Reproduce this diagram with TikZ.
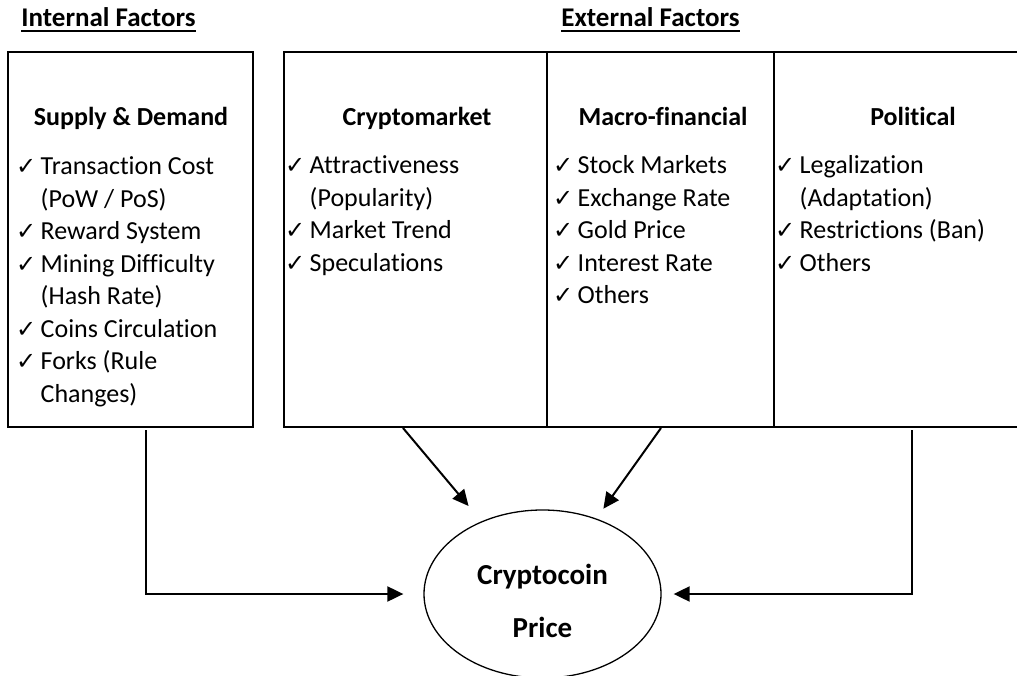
\documentclass[tikz,border=0pt]{standalone}
\usepackage{fontspec}
\setmainfont[Ligatures=NoCommon]{Carlito}
\newfontfamily\ckfont{DejaVu Sans}
\usetikzlibrary{shapes.geometric,arrows.meta}
\newcommand\ckmark{\makebox[24.5pt][l]{\fontsize{24}{24}\ckfont ✓}}
\newcommand\ckitem[1]{\hbox{\ckmark#1}}
\newcommand\contline[1]{\hbox{\hspace{24.5pt}#1}}
\tikzset{
  txt/.style={font=\fontsize{26}{32.5}\selectfont, inner sep=0pt, anchor=base west},
  ttl/.style={font=\bfseries\fontsize{26}{32.5}\selectfont, inner sep=0pt, anchor=base},
  frame/.style={draw, line width=2pt, anchor=north west, inner sep=0pt, minimum height=375pt},
  conn/.style={line width=2pt, -{Triangle[length=16pt,width=15pt]}},
  uline/.style={line width=2pt},
}
\begin{document}
\begin{tikzpicture}[x=1pt,y=-1pt]
\clip (0,0) rectangle (1017,676);
% headings
\node[ttl, font=\bfseries\fontsize{27}{32.5}\selectfont] (ih) at (108.5,27) {Internal Factors};
\node[ttl, font=\bfseries\fontsize{27}{32.5}\selectfont] (eh) at (650.5,27) {External Factors};
\draw[uline] ([yshift=-4pt]ih.base west) -- ([yshift=-4pt]ih.base east);
\draw[uline] ([yshift=-4pt]eh.base west) -- ([yshift=-4pt]eh.base east);
% boxes
\node[frame, minimum width=245pt] (ibox) at (7,51) {};
\node[frame, minimum width=263pt] (cbox) at (283,51) {};
\node[frame, minimum width=227pt] (mbox) at (546,51) {};
\node[frame, minimum width=280pt] (pbox) at (773,51) {};
% titles
\node[ttl] (sdt) at (131,126) {Supply \& Demand};
\node[ttl] (cmt) at (417,126) {Cryptomarket};
\node[ttl] (mft) at (663,126) {Macro-financial};
\node[ttl] (plt) at (913,126) {Political};
% lists
\node[txt] (sdl) at (16,175) {\vtop{%
  \ckitem{Transaction Cost}\contline{(PoW / PoS)}\ckitem{Reward System}%
  \ckitem{Mining Difficulty}\contline{(Hash Rate)}\ckitem{Coins Circulation}%
  \ckitem{Forks (Rule}\contline{Changes)}}};
\node[txt] (cml) at (285,174) {\vtop{%
  \ckitem{Attractiveness}\contline{(Popularity)}\ckitem{Market Trend}%
  \ckitem{Speculations}}};
\node[txt] (mfl) at (553,174) {\vtop{%
  \ckitem{Stock Markets}\ckitem{Exchange Rate}\ckitem{Gold Price}%
  \ckitem{Interest Rate}\ckitem{Others}}};
\node[txt] (pll) at (775,174) {\vtop{%
  \ckitem{Legalization}\contline{(Adaptation)}\ckitem{Restrictions (Ban)}%
  \ckitem{Others}}};
% price ellipse
\node[draw, ellipse, line width=1.3pt, minimum width=237pt, minimum height=168pt, inner sep=0pt] (price) at (542.5,594) {};
\node[ttl, font=\bfseries\fontsize{29}{32.5}\selectfont] (p1) at (542.5,584) {Cryptocoin};
\node[ttl, font=\bfseries\fontsize{29}{32.5}\selectfont] (p2) at (542.5,637) {Price};
% connectors
\coordinate (l1) at (146,430);
\coordinate (r1) at (912,430);
\coordinate (d1) at (403,428);
\coordinate (d2) at (661,428);
\draw[conn, shorten >=20pt] (l1) |- (price.west);
\draw[conn, shorten >=12pt] (r1) |- (price.east);
\draw[conn, shorten >=20pt] (d1) -- (price);
\draw[conn, shorten >=12pt] (d2) -- (price);
\end{tikzpicture}
\end{document}
